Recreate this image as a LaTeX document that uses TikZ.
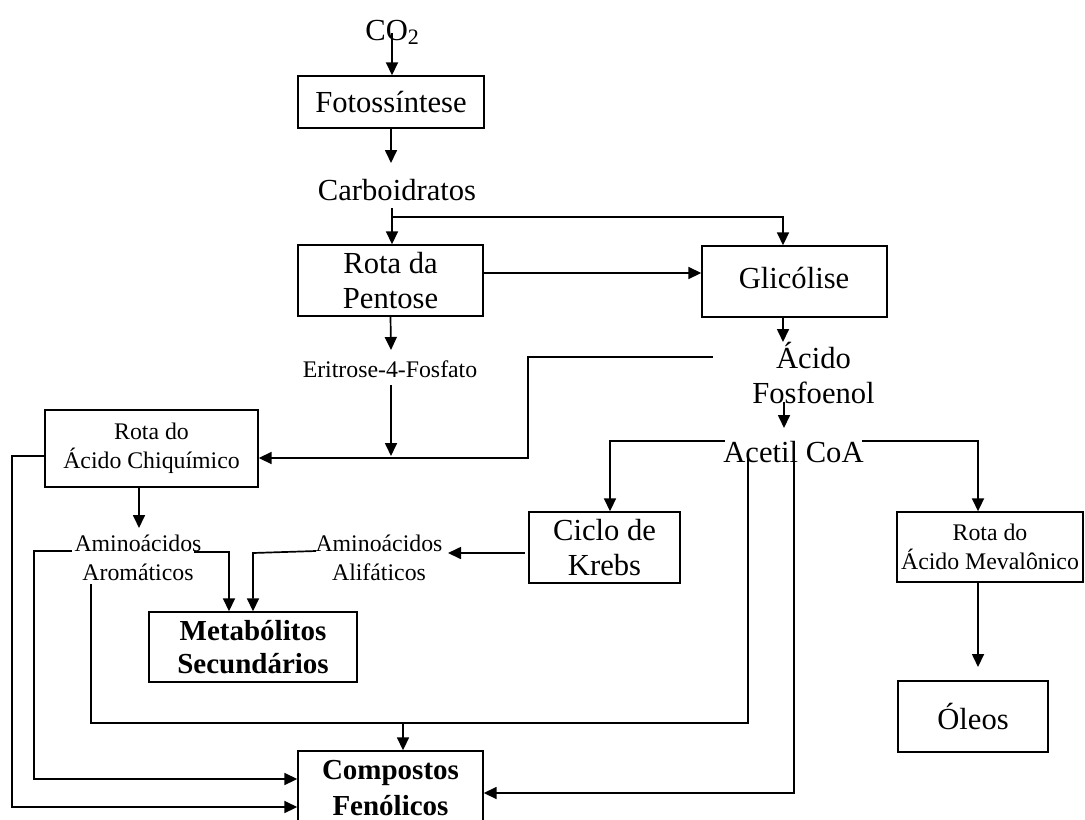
\documentclass[tikz,border=0pt]{standalone}
\usepackage{fontspec}
\setmainfont{Liberation Serif}
\usetikzlibrary{arrows.meta}
\newcommand\bigtxt{\fontsize{15.3}{17.5}\selectfont}
\newcommand\smalltxt{\fontsize{11.9}{14.3}\selectfont}
\newcommand\boldtxt{\fontsize{14.5}{16.5}\selectfont\bfseries}
\tikzset{
  box/.style={draw, line width=0.7pt, align=center, inner sep=0pt, font=\bigtxt},
  lbl/.style={align=center, inner sep=0pt, font=\bigtxt},
  slbl/.style={align=center, inner sep=0pt, font=\smalltxt},
  arr/.style={line width=0.85pt, -{Triangle[length=6.5pt,width=6pt]}},
  ln/.style={line width=0.85pt},
}
\begin{document}
\begin{tikzpicture}[x=0.5pt,y=-0.5pt]
\useasboundingbox (0,0) rectangle (1085,819);
\clip (0,0) rectangle (1085,819);
% boxes
\node[box, minimum width=93pt, minimum height=26pt] (fotos) at (391,102) {Fotossíntese};
\node[box, minimum width=92.5pt, minimum height=35.5pt] (pent) at (390.5,280.5) {Rota da\\Pentose};
\node[box, minimum width=92.5pt, minimum height=35.5pt] (glic) at (794.5,281.5) {};
\node[lbl] (glictxt) at (794,278) {Glicólise};
\node[box, font=\smalltxt, minimum width=106.5pt, minimum height=38.5pt] (chiq) at (151.5,448.5) {Rota do\\Ácido Chiquímico};
\node[box, minimum width=75.5pt, minimum height=35.5pt] (krebs) at (604.5,547.5) {Ciclo de\\Krebs};
\node[box, font=\smalltxt, minimum width=93pt, minimum height=35pt] (meva) at (990,547) {Rota do\\Ácido Mevalônico};
\node[box, minimum width=75pt, minimum height=35.5pt] (oleos) at (973,716.5) {Óleos};
\node[box, font=\boldtxt, minimum width=104pt, minimum height=35pt] (metab) at (253,647) {Metabólitos\\Secundários};
\node[box, minimum width=92.5pt, minimum height=44.5pt] (comp) at (390.5,795.5) {};
\node[lbl, font=\fontsize{14.5}{18}\selectfont\bfseries] (comptxt) at (390.5,788) {Compostos\\Fenólicos};
% labels
\node[lbl, anchor=base west] (co2) at (365,40) {CO\raisebox{-0.35ex}{\fontsize{11}{11}\selectfont 2}};
\node[lbl, anchor=base] (carb) at (397,200) {Carboidratos};
\node[slbl, anchor=base] (erit) at (390,377) {Eritrose-4-Fosfato};
\node[lbl] (acido) at (813.5,373) {Ácido\\Fosfoenol};
\node[lbl, anchor=base] (acetil) at (793.5,462) {Acetil CoA};
\node[slbl] (amar) at (138,558) {Aminoácidos\\Aromáticos};
\node[slbl] (alif) at (379,558) {Aminoácidos\\Alifáticos};
% free ends
\coordinate (c0) at (392,33);
\coordinate (c1) at (391,163);
\coordinate (c2) at (392,208);
\coordinate (c3) at (391,350);
\coordinate (c4) at (391,385);
\coordinate (c5) at (713,357);
\coordinate (c6) at (783,342);
\coordinate (c7) at (784,402);
\coordinate (c8) at (784,428);
\coordinate (c9) at (725,441);
\coordinate (c10) at (862,441);
\coordinate (c11) at (748,458);
\coordinate (c12) at (794,458);
\coordinate (c13) at (978,667);
\coordinate (c14) at (525,553);
\coordinate (c15) at (448,553);
\coordinate (c16) at (316,551);
\coordinate (c17) at (194,552);
\coordinate (c18) at (72,551);
\coordinate (c19) at (91,584);
\coordinate (c20) at (139,528);
% connectors
\draw[arr] (c0) -- (c0 |- fotos.north);
\draw[arr] (fotos.south) -- (c1);
\draw[arr] (c2) -- (c2 |- pent.north);
\draw[arr] (392,217) -| (glic.north -| 783,0);
\draw[arr] (pent.east |- 0,273) -- (glic.west |- 0,273);
\draw[arr] (pent.south) -- (c3);
\draw[arr] (c4) -- (391,456);
\draw[arr] (c5) -- (528,357) -- (528,458) -- (chiq.east |- 0,458);
\draw[arr] (glic.south -| c6) -- (c6);
\draw[arr] (c7) -- (c8);
\draw[arr] (c9) -| (krebs.north -| 610,0);
\draw[arr] (c10) -| (meva.north -| 978,0);
\draw[arr] (meva.south -| 978,0) -- (c13);
\draw[arr] (c14) -- (c15);
\draw[arr] (c16) -- (253,553) -- (metab.north -| 253,0);
\draw[arr] (c17) -| (metab.north -| 229,0);
\draw[arr] (c18) -- (34,551) |- (comp.west |- 0,779);
\draw[ln] (c19) |- (748,723) -- (c11);
\draw[arr] (403,723) -- (comp.north -| 403,0);
\draw[arr] (c12) |- (comp.east |- 0,793);
\draw[arr] (chiq.west |- 0,456) -- (12,456) |- (comp.west |- 0,807);
\draw[arr] (chiq.south -| c20) -- (c20);
\end{tikzpicture}
\end{document}
